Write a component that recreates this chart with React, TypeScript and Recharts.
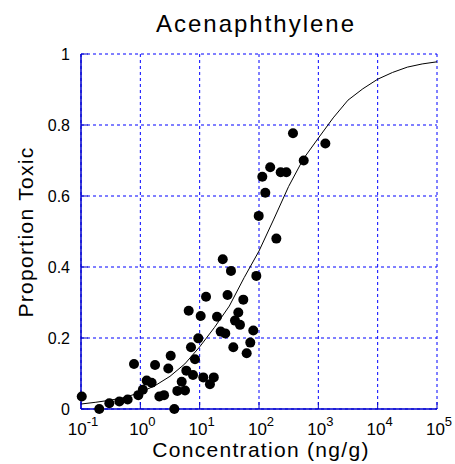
import React from 'react';
import { ScatterChart, Scatter, XAxis, YAxis, CartesianGrid } from 'recharts';

// Observed data points
const concentration = [
  0.103, 0.203, 0.30, 0.443, 0.612, 0.782, 0.925, 1.10, 1.28, 1.55,
  1.77, 2.09, 2.51, 2.96, 3.25, 3.74, 4.20, 4.98, 5.66, 5.96,
  6.53, 7.14, 7.72, 8.34, 9.48, 10.4, 11.5, 12.8, 14.9, 17.3,
  19.6, 22.6, 24.5, 27.0, 29.5, 33.7, 36.9, 39.4, 44.8, 47.8,
  54.4, 62.0, 71.3, 80.1, 90.1, 98.9, 113.7, 127.7, 154.5, 196,
  232, 289, 374, 567, 1313,
];
const proportion = [
  0.035, 0.0, 0.016, 0.021, 0.027, 0.127, 0.039, 0.054, 0.080, 0.074,
  0.124, 0.035, 0.039, 0.114, 0.150, 0.0, 0.051, 0.077, 0.052, 0.108,
  0.277, 0.174, 0.096, 0.140, 0.199, 0.262, 0.089, 0.316, 0.070, 0.089,
  0.260, 0.218, 0.422, 0.213, 0.321, 0.389, 0.174, 0.249, 0.272, 0.237,
  0.308, 0.157, 0.187, 0.221, 0.375, 0.544, 0.654, 0.609, 0.681, 0.480,
  0.667, 0.667, 0.777, 0.700, 0.748,
];

// Fitted curve
const curveConc = [
  0.1, 0.178, 0.316, 0.562, 1, 1.78, 3.16, 5.62, 10, 17.8, 31.6, 56.2, 100,
  178, 316, 562, 1000, 1778, 3162, 5623, 10000, 17783, 31623, 56234, 100000,
];
const curveProp = [
  0.014, 0.019, 0.025, 0.033, 0.047, 0.066, 0.092, 0.127, 0.175, 0.23, 0.29, 0.37, 0.445,
  0.535, 0.627, 0.705, 0.763, 0.82, 0.87, 0.902, 0.929, 0.948, 0.963, 0.972, 0.978,
];

const xTicks = [0.1, 1, 10, 100, 1000, 10000, 100000];
const xTickExponents = ['-1', '0', '1', '2', '3', '4', '5'];
const yTicks = [0, 0.2, 0.4, 0.6, 0.8, 1];
const yTickLabels = ['0', '0.2', '0.4', '0.6', '0.8', '1'];

const title = 'Acenaphthylene';
const xLabel = 'Concentration (ng/g)';
const yLabel = 'Proportion Toxic';

const points = concentration.map((c, i) => ({ x: c, y: proportion[i] }));
const curve = curveConc.map((c, i) => ({ x: c, y: curveProp[i] }));

const FONT = '"Liberation Sans", Arial, Helvetica, sans-serif';
const FRAME = '#0000cc';
const GRID = '#0000ff';

const XTick = (props: any) => {
  const { x, y, payload } = props;
  const idx = xTicks.indexOf(payload.value);
  return (
    <g>
      <line x1={x} x2={x} y1={y} y2={y - 7} stroke={FRAME} strokeWidth={1} />
      <text x={x + 2} y={y + 26} textAnchor="middle" fontSize={17} fontFamily={FONT} fill="#000">
        <tspan>10</tspan>
        <tspan dy={-9} fontSize={13}>{xTickExponents[idx]}</tspan>
      </text>
    </g>
  );
};

const TopTick = (props: any) => {
  const { x, y } = props;
  return <line x1={x} x2={x} y1={y} y2={y + 7} stroke={FRAME} strokeWidth={1} />;
};

const YTick = (props: any) => {
  const { x, y, payload } = props;
  const idx = yTicks.indexOf(payload.value);
  return (
    <g>
      <line x1={x} x2={x + 7} y1={y} y2={y} stroke={FRAME} strokeWidth={1} />
      <text x={x - 11} y={y + 6} textAnchor="end" fontSize={16} fontFamily={FONT} fill="#000">
        {yTickLabels[idx]}
      </text>
    </g>
  );
};

const RightTick = (props: any) => {
  const { x, y } = props;
  return <line x1={x} x2={x - 7} y1={y} y2={y} stroke={FRAME} strokeWidth={1} />;
};

const Dot = (props: any) => {
  const { cx, cy } = props;
  return <circle cx={cx} cy={cy} r={5} fill="#000" />;
};

const NoDot = () => null;

export default function App() {
  return (
    <div style={{ position: 'absolute', left: 8, top: 8, width: 447, height: 456 }}>
      <ScatterChart
        width={447}
        height={456}
        margin={{ top: 46, right: 18, left: 0, bottom: 0 }}
        style={{ overflow: 'visible' }}
      >
        <CartesianGrid stroke={GRID} strokeDasharray="3 3" strokeWidth={1} />
        <XAxis
          xAxisId={0}
          dataKey="x"
          type="number"
          scale="log"
          domain={[0.1, 100000]}
          ticks={xTicks}
          height={55}
          tickSize={0}
          tickMargin={0}
          tickLine={false}
          axisLine={{ stroke: FRAME, strokeWidth: 1.5 }}
          tick={<XTick />}
          interval={0}
        />
        <XAxis
          xAxisId="top"
          orientation="top"
          dataKey="x"
          type="number"
          scale="log"
          domain={[0.1, 100000]}
          ticks={xTicks}
          height={0}
          tickSize={0}
          tickMargin={0}
          tickLine={false}
          axisLine={{ stroke: FRAME, strokeWidth: 1.5 }}
          tick={<TopTick />}
          interval={0}
        />
        <YAxis
          yAxisId={0}
          dataKey="y"
          type="number"
          domain={[0, 1]}
          ticks={yTicks}
          width={73}
          tickSize={0}
          tickMargin={0}
          tickLine={false}
          axisLine={{ stroke: FRAME, strokeWidth: 1.5 }}
          tick={<YTick />}
          interval={0}
        />
        <YAxis
          yAxisId="right"
          orientation="right"
          dataKey="y"
          type="number"
          domain={[0, 1]}
          ticks={yTicks}
          width={0}
          tickSize={0}
          tickMargin={0}
          tickLine={false}
          axisLine={{ stroke: FRAME, strokeWidth: 1.5 }}
          tick={<RightTick />}
          interval={0}
        />
        <Scatter
          data={curve}
          xAxisId={0}
          yAxisId={0}
          line={{ stroke: '#000', strokeWidth: 1 }}
          lineType="joint"
          shape={<NoDot />}
          isAnimationActive={false}
        />
        <Scatter
          data={points}
          xAxisId={0}
          yAxisId={0}
          shape={<Dot />}
          isAnimationActive={false}
        />
        <Scatter
          data={points}
          xAxisId="top"
          yAxisId="right"
          shape={<NoDot />}
          isAnimationActive={false}
        />
      </ScatterChart>
      <svg
        width={447}
        height={456}
        style={{ position: 'absolute', left: 0, top: 0, pointerEvents: 'none' }}
      >
        <text x={248} y={24} textAnchor="middle" fontSize={24} letterSpacing={2} fontFamily={FONT} fill="#000">
          {title}
        </text>
        <text x={253} y={449} textAnchor="middle" fontSize={21} letterSpacing={1.3} fontFamily={FONT} fill="#000">
          {xLabel}
        </text>
        <text
          x={25}
          y={224}
          textAnchor="middle"
          fontSize={21}
          letterSpacing={1.3}
          fontFamily={FONT}
          fill="#000"
          transform="rotate(-90 25 224)"
        >
          {yLabel}
        </text>
      </svg>
    </div>
  );
}
